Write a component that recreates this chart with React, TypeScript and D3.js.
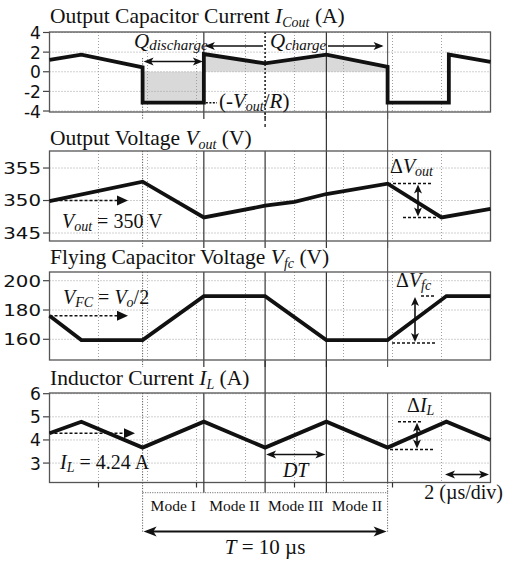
import React from "react";
import * as d3 from "d3";

// ---------- data ----------
const modeBounds = [3.8, 6.3, 8.8, 11.3, 13.8];
const modeLabels = ["Mode I", "Mode II", "Mode III", "Mode II"];
const gridTimes = [2, 4, 6, 8, 10, 12, 14, 16];
const bottomTicks = [2, 6, 10, 14];

const icT = [0, 1.3, 3.8, 3.8, 6.3, 6.3, 8.8, 11.3, 13.8, 13.8, 16.3, 16.3, 18];
const icV = [1.2, 1.75, 0.45, -3.15, -3.15, 1.8, 0.85, 1.75, 0.5, -3.15, -3.15, 1.75, 1.0];
const icTicks = [4, 2, 0, -2, -4];

const voT = [0, 3.8, 6.3, 8.8, 10, 11.3, 13.8, 16.0, 18];
const voV = [349.9, 352.9, 347.4, 349.2, 349.8, 351.0, 352.6, 347.4, 348.7];
const voTicks = [355, 350, 345];

const fcT = [0, 1.3, 3.8, 6.3, 8.8, 11.3, 13.8, 16.2, 18];
const fcV = [176, 159.5, 159.5, 189.5, 189.5, 159.5, 159.5, 189.5, 189.5];
const fcTicks = [200, 180, 160];

const ilT = [0, 1.3, 3.8, 6.3, 8.8, 11.3, 13.8, 16.2, 18];
const ilV = [4.29, 4.79, 3.67, 4.79, 3.67, 4.79, 3.67, 4.79, 4.0];
const ilTicks = [6, 5, 4, 3];

const voutRef = 350;
const vfcRef = 176;
const ilRef = 4.29;

// ---------- layout ----------
const W = 506, H = 562;
const x = d3.scaleLinear().domain([0, 18]).range([49.5, 490.5]);
const SERIF = "'Liberation Serif', 'Times New Roman', serif";
const SANS = "'DejaVu Sans', Verdana, sans-serif";
const INK = "#111";

const panels = [
  { top: 32, bottom: 112, domain: [-4.1, 4.05], ticks: icTicks, t: icT, v: icV, fs: 18, sx: 0.95 },
  { top: 151, bottom: 241, domain: [343.77, 357.62], ticks: voTicks, t: voT, v: voV, fs: 16.5, sx: 1.2 },
  { top: 272, bottom: 360, domain: [145.87, 205.94], ticks: fcTicks, t: fcT, v: fcV, fs: 16.5, sx: 1.2 },
  { top: 393, bottom: 482.5, domain: [2.16, 6.03], ticks: ilTicks, t: ilT, v: ilV, fs: 18, sx: 0.95 },
].map((p) => ({ ...p, y: d3.scaleLinear().domain(p.domain as [number, number]).range([p.bottom, p.top]) }));

function head(px: number, py: number, dir: "l" | "r" | "u" | "d", len = 10, hw = 4) {
  if (dir === "r") return `M${px},${py}L${px - len},${py - hw}L${px - len * 0.75},${py}L${px - len},${py + hw}Z`;
  if (dir === "l") return `M${px},${py}L${px + len},${py - hw}L${px + len * 0.75},${py}L${px + len},${py + hw}Z`;
  if (dir === "d") return `M${px},${py}L${px - hw},${py - len}L${px},${py - len * 0.75}L${px + hw},${py - len}Z`;
  return `M${px},${py}L${px - hw},${py + len}L${px},${py + len * 0.75}L${px + hw},${py + len}Z`;
}

const HArrow = ({ x1, x2, y, w = 1.6, len = 10, hw = 4 }: any) => (
  <g>
    <line x1={x1 + len * 0.6} x2={x2 - len * 0.6} y1={y} y2={y} stroke={INK} strokeWidth={w} />
    <path d={head(x1, y, "l", len, hw)} fill={INK} />
    <path d={head(x2, y, "r", len, hw)} fill={INK} />
  </g>
);
const VArrow = ({ xx, y1, y2, w = 1.6, len = 9, hw = 4 }: any) => (
  <g>
    <line x1={xx} x2={xx} y1={y1 + len * 0.6} y2={y2 - len * 0.6} stroke={INK} strokeWidth={w} />
    <path d={head(xx, y1, "u", len, hw)} fill={INK} />
    <path d={head(xx, y2, "d", len, hw)} fill={INK} />
  </g>
);
const Dash = ({ x1, x2, y }: any) => (
  <line x1={x1} x2={x2} y1={y} y2={y} stroke={INK} strokeWidth={1.5} strokeDasharray="3,2" />
);
const DashArrow = ({ x1, x2, y }: any) => (
  <g>
    <line x1={x1} x2={x2 - 8} y1={y} y2={y} stroke={INK} strokeWidth={1.5} strokeDasharray="3,2" />
    <path d={`M${x2},${y}L${x2 - 11},${y - 5}L${x2 - 11},${y + 5}Z`} fill={INK} />
  </g>
);

const modeStroke = (i: number, pi: number) => {
  if (i === 0) return { stroke: "#555", strokeWidth: 1, strokeDasharray: "1.2,1.5" };
  if (i === 4) return { stroke: "#555", strokeWidth: 1.1 };
  if (i === 2 && pi === 0) return { stroke: "#222", strokeWidth: 1.6, strokeDasharray: "2,2" };
  return { stroke: "#222", strokeWidth: 1.1 };
};

export default function App() {
  const P = panels;
  const titleFs = 21.5;
  const subFs = 14;

  const titles = [
    { y: 23, main: "Output Capacitor Current ", v: "I", sub: "Cout", tail: " (A)" },
    { y: 144.5, main: "Output Voltage ", v: "V", sub: "out", tail: " (V)" },
    { y: 263.5, main: "Flying Capacitor Voltage ", v: "V", sub: "fc", tail: " (V)" },
    { y: 385, main: "Inductor Current ", v: "I", sub: "L", tail: " (A)" },
  ];

  const p1 = P[0];
  const dischargeIdx = [3, 4];
  const chargeIdx = [5, 6, 7, 8];
  const fillArea = (idx: number[]) =>
    d3
      .area<number>()
      .x((k) => x(icT[k]))
      .y0(p1.y(0))
      .y1((k) => p1.y(icV[k]))(idx) as string;

  // mode lines that cross the gap below panel gi
  const gapFull: number[][] = [[3, 4], [4], [2, 3]];

  return (
    <svg
      width={W}
      height={H}
      viewBox={`0 0 ${W} ${H}`}
      style={{ position: "absolute", left: 0, top: 0, display: "block", background: "#fff" }}
    >
      <rect width={W} height={H} fill="#fff" />
      <path d={fillArea(dischargeIdx)} fill="#d9d9d9" />
      <path d={fillArea(chargeIdx)} fill="#d9d9d9" />

      {P.map((p, pi) => (
        <g key={"grid" + pi}>
          {gridTimes.map((t) => (
            <line key={t} x1={x(t)} x2={x(t)} y1={p.top} y2={p.bottom} stroke="#a0a0a0" strokeWidth={1} strokeDasharray="1,2" />
          ))}
          {p.ticks.map((v) => (
            <line key={v} x1={x(0)} x2={x(18)} y1={p.y(v)} y2={p.y(v)} stroke="#a0a0a0" strokeWidth={1} strokeDasharray="1,2" />
          ))}
          {p.ticks.map((v) => (
            <g key={"t" + v}>
              <line x1={43} x2={x(0)} y1={p.y(v)} y2={p.y(v)} stroke="#444" strokeWidth={1.2} />
              <text
                transform={`translate(41,${p.y(v)}) scale(${p.sx},1)`}
                textAnchor="end"
                dy="0.36em"
                fontFamily={SANS}
                fontSize={p.fs}
                fill={INK}
              >
                {v}
              </text>
            </g>
          ))}
        </g>
      ))}

      {P.map((p, pi) =>
        modeBounds.map((t, i) => (
          <line
            key={`m${pi}-${i}`}
            x1={x(t)}
            x2={x(t)}
            y1={pi === 0 && i === 0 ? 58 : p.top}
            y2={p.bottom + (pi < 3 ? 7 : 0)}
            {...modeStroke(i, pi)}
          />
        ))
      )}
      {gapFull.map((idxs, gi) =>
        idxs.map((i) => (
          <line
            key={`g${gi}-${i}`}
            x1={x(modeBounds[i])}
            x2={x(modeBounds[i])}
            y1={P[gi].bottom}
            y2={P[gi + 1].top}
            {...modeStroke(i, 1)}
          />
        ))
      )}
      <line x1={x(modeBounds[2])} x2={x(modeBounds[2])} y1={P[0].bottom} y2={P[0].bottom + 18} stroke="#222" strokeWidth={1.4} strokeDasharray="3,3" />

      {P.map((p, pi) => (
        <rect key={"f" + pi} x={x(0)} y={p.top} width={x(18) - x(0)} height={p.bottom - p.top} fill="none" stroke="#555" strokeWidth={1.3} />
      ))}

      {P.map((p, pi) => {
        const line = d3
          .line<number>()
          .x((_, i) => x(p.t[i]))
          .y((d) => p.y(d));
        return <path key={"w" + pi} d={line(p.v) as string} fill="none" stroke={INK} strokeWidth={3.8} strokeLinejoin="miter" strokeLinecap="butt" />;
      })}

      {titles.map((tt, i) => (
        <text key={"title" + i} x={50} y={tt.y} fontFamily={SERIF} fontSize={titleFs} fill={INK}>
          {tt.main}
          <tspan fontStyle="italic">{tt.v}</tspan>
          <tspan fontStyle="italic" fontSize={subFs} dy={4}>
            {tt.sub}
          </tspan>
          <tspan dy={-4}>{tt.tail}</tspan>
        </text>
      ))}

      {/* ---- panel 1 annotations ---- */}
      <text x={134} y={48} fontFamily={SERIF} fontSize={21} fontStyle="italic" fill={INK}>
        Q<tspan fontSize={15} dy={2}>discharge</tspan>
      </text>
      <HArrow x1={x(modeBounds[0]) + 1} x2={x(modeBounds[1]) - 1} y={61.5} />
      <line x1={x(modeBounds[1]) + 6} x2={263} y1={46} y2={46} stroke={INK} strokeWidth={1.5} />
      <path d={head(x(modeBounds[1]) + 1, 46, "l")} fill={INK} />
      <text x={270} y={48} fontFamily={SERIF} fontSize={21} fontStyle="italic" fill={INK}>
        Q<tspan fontSize={15} dy={2}>charge</tspan>
      </text>
      <line x1={328} x2={x(modeBounds[4]) - 6} y1={46} y2={46} stroke={INK} strokeWidth={1.5} />
      <path d={head(x(modeBounds[4]) - 4, 46, "r")} fill={INK} />
      <line x1={x(modeBounds[1]) + 2} x2={217} y1={p1.y(icV[4])} y2={p1.y(icV[4])} stroke={INK} strokeWidth={1.5} strokeDasharray="2,1.5" />
      <text x={219} y={108} fontFamily={SERIF} fontSize={21} fill={INK}>
        (-<tspan fontStyle="italic">V</tspan>
        <tspan fontStyle="italic" fontSize={14} dy={3}>
          out
        </tspan>
        <tspan dy={-3}>/</tspan>
        <tspan fontStyle="italic">R</tspan>)
      </text>

      {/* ---- panel 2 annotations ---- */}
      <DashArrow x1={x(0)} x2={128} y={P[1].y(voutRef)} />
      <text x={62} y={227.5} fontFamily={SERIF} fontSize={20} fill={INK}>
        <tspan fontStyle="italic">V</tspan>
        <tspan fontStyle="italic" fontSize={14} dy={3}>
          out
        </tspan>
        <tspan dy={-3}> = 350 V</tspan>
      </text>
      <text x={390} y={173} fontFamily={SERIF} fontSize={20} fill={INK}>
        Δ<tspan fontStyle="italic">V</tspan>
        <tspan fontStyle="italic" fontSize={14} dy={3}>
          out
        </tspan>
      </text>
      <Dash x1={388} x2={432} y={P[1].y(voV[6])} />
      <Dash x1={403} x2={437} y={P[1].y(voV[7])} />
      <VArrow xx={418} y1={P[1].y(voV[6]) + 1} y2={P[1].y(voV[7]) - 1} />

      {/* ---- panel 3 annotations ---- */}
      <DashArrow x1={x(0)} x2={128} y={P[2].y(vfcRef)} />
      <text x={63} y={304} fontFamily={SERIF} fontSize={20} fill={INK}>
        <tspan fontStyle="italic">V</tspan>
        <tspan fontStyle="italic" fontSize={14} dy={3}>
          FC
        </tspan>
        <tspan dy={-3}> = </tspan>
        <tspan fontStyle="italic">V</tspan>
        <tspan fontStyle="italic" fontSize={14} dy={3}>
          o
        </tspan>
        <tspan dy={-3}>/2</tspan>
      </text>
      <text x={396} y={287} fontFamily={SERIF} fontSize={20} fill={INK}>
        Δ<tspan fontStyle="italic">V</tspan>
        <tspan fontStyle="italic" fontSize={14} dy={3}>
          fc
        </tspan>
      </text>
      <Dash x1={421} x2={435} y={P[2].y(fcV[7])} />
      <Dash x1={392} x2={435} y={P[2].y(fcV[6]) + 3} />
      <VArrow xx={415} y1={P[2].y(fcV[7]) + 1} y2={P[2].y(fcV[6]) + 2} />

      {/* ---- panel 4 annotations ---- */}
      <DashArrow x1={x(0)} x2={135} y={P[3].y(ilRef)} />
      <text x={60} y={468.5} fontFamily={SERIF} fontSize={20} fill={INK}>
        <tspan fontStyle="italic">I</tspan>
        <tspan fontStyle="italic" fontSize={14} dy={3}>
          L
        </tspan>
        <tspan dy={-3}> = 4.24 A</tspan>
      </text>
      <text x={407} y={412} fontFamily={SERIF} fontSize={20} fill={INK}>
        Δ<tspan fontStyle="italic">I</tspan>
        <tspan fontStyle="italic" fontSize={14} dy={3}>
          L
        </tspan>
      </text>
      <Dash x1={398} x2={422} y={P[3].y(ilV[7])} />
      <Dash x1={390} x2={433} y={P[3].y(ilV[6]) + 2} />
      <VArrow xx={417} y1={P[3].y(ilV[7]) + 1} y2={P[3].y(ilV[6]) + 1} />
      <HArrow x1={x(modeBounds[2]) + 1} x2={x(modeBounds[3]) - 1} y={454.5} />
      <text x={(x(modeBounds[2]) + x(modeBounds[3])) / 2} y={477} textAnchor="middle" fontFamily={SERIF} fontSize={20} fontStyle="italic" fill={INK}>
        DT
      </text>
      <HArrow x1={445} x2={489} y={474.5} />

      {bottomTicks.map((t) => (
        <line key={"bt" + t} x1={x(t)} x2={x(t)} y1={P[3].bottom} y2={P[3].bottom + 5} stroke="#333" strokeWidth={1.2} />
      ))}
      <text x={503} y={499} textAnchor="end" fontFamily={SERIF} fontSize={20} fill={INK}>
        2 (µs/div)
      </text>

      {modeBounds.map((t, i) => (
        <line key={"mb" + i} x1={x(t)} x2={x(t)} y1={P[3].bottom} y2={492.7} {...modeStroke(i, 3)} {...(i === 4 ? { strokeDasharray: "1.2,1.5" } : {})} />
      ))}
      <line x1={x(modeBounds[0])} x2={x(modeBounds[4])} y1={492.7} y2={492.7} stroke="#777" strokeWidth={1} strokeDasharray="1.2,1.2" />
      {modeLabels.map((m, i) => (
        <text
          key={"ml" + i}
          x={(x(modeBounds[i]) + x(modeBounds[i + 1])) / 2}
          y={510.5}
          textAnchor="middle"
          fontFamily={SERIF}
          fontSize={15.5}
          fill={INK}
        >
          {m}
        </text>
      ))}
      {[0, 4].map((i) => (
        <line key={"td" + i} x1={x(modeBounds[i])} x2={x(modeBounds[i])} y1={492.7} y2={532} stroke="#666" strokeWidth={1} strokeDasharray="1.2,1.5" />
      ))}
      <HArrow x1={x(modeBounds[0]) + 1} x2={x(modeBounds[4]) - 1} y={531.5} w={2} len={13} hw={5} />
      <text x={(x(modeBounds[0]) + x(modeBounds[4])) / 2} y={554} textAnchor="middle" fontFamily={SERIF} fontSize={21} fill={INK}>
        <tspan fontStyle="italic">T</tspan> = 10 µs
      </text>
    </svg>
  );
}
